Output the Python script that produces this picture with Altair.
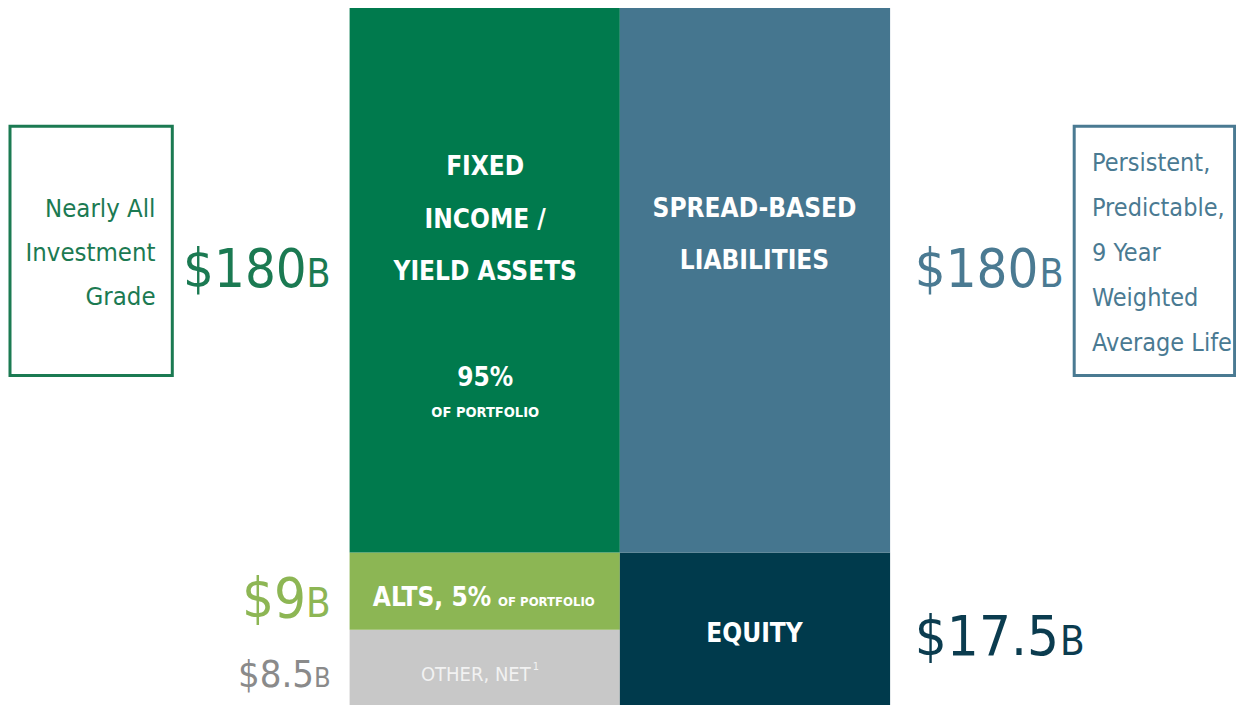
import altair as alt
import pandas as pd

# ---- data ----
segments = ["Other, net", "Alts", "Fixed income / yield assets", "Equity", "Spread-based liabilities"]
sides = ["Assets", "Assets", "Assets", "Liabilities", "Liabilities"]
values = [8.5, 9.0, 180.0, 17.5, 180.0]          # $B
stack_order = [0, 1, 2, 0, 1]
colors = ["#C8C8C8", "#8CB654", "#007A4D", "#003A4C", "#45768F"]

W, H = 1228, 697
FONT = "DejaVu Sans Condensed, DejaVu Sans, sans-serif"
# approximate advance widths (em) of DejaVu Sans Condensed
DIGIT, DOT, BW = 0.572, 0.286, 0.617


def X(xr):
    return round((xr - 2) * 0.99, 1)


def Y(yr):
    return round(yr * H / 713, 1)


df = pd.DataFrame({"segment": segments, "side": sides, "value": values, "order": stack_order})

# piecewise y scale: breakpoints from the asset stack
asset_vals = [v for v, s in zip(values, sides) if s == "Assets"]
bps = [0.0]
for v in asset_vals:
    bps.append(bps[-1] + v)

bars = alt.Chart(df).mark_bar(strokeWidth=0).encode(
    x=alt.X("side:N", axis=None,
            scale=alt.Scale(domain=["Assets", "Liabilities"], range=[X(347), X(893)],
                            paddingInner=0, paddingOuter=0)),
    y=alt.Y("value:Q", stack="zero", axis=None,
            scale=alt.Scale(domain=bps, range=[Y(713), Y(636), Y(557), Y(0)], zero=False, nice=False)),
    color=alt.Color("segment:N", legend=None, scale=alt.Scale(domain=segments, range=colors)),
    order=alt.Order("order:Q", sort="ascending"),
)

one = pd.DataFrame({"a": [0]})


def txt(s, xr, yr, size, color, weight="normal", align="center"):
    return alt.Chart(one).mark_text(
        text=s, align=align, baseline="alphabetic", fontSize=size,
        fontWeight=weight, color=color, font=FONT
    ).encode(x=alt.value(X(xr)), y=alt.value(Y(yr)))


def box(x1, x2, y1, y2, color):
    return alt.Chart(one).mark_rect(fillOpacity=0, stroke=color, strokeWidth=3).encode(
        x=alt.value(X(x1)), x2=alt.value(X(x2)), y=alt.value(Y(y1)), y2=alt.value(Y(y2)))


def money(v):
    return "$" + f"{v:g}"


def width_of(s, size):
    return sum(DOT if ch == "." else DIGIT for ch in s) * size / 0.99


layers = [bars]

# side boxes
layers.append(box(4, 168, 121, 376, "#1B7A52"))
layers.append(box(1079, 1241, 121, 376, "#4A7A92"))
for s, yb in zip(["Nearly All", "Investment", "Grade"], [214, 259, 304]):
    layers.append(txt(s, 151, yb, 25.5, "#1B7A52", align="right"))
for s, yb in zip(["Persistent,", "Predictable,", "9 Year", "Weighted", "Average Life"],
                 [167, 213, 259, 305, 351]):
    layers.append(txt(s, 1097, yb, 25, "#4A7A92", align="left"))

# amounts on the left (right aligned)
left_amounts = [(values[2], 285, 54, "#1B7A52"), (values[1], 623, 56, "#8DB654"), (values[0], 695, 38, "#8A8A8A")]
for v, yb, size, col in left_amounts:
    bsize = round(size * 0.72)
    layers.append(txt("B", 328, yb, bsize, col, align="right"))
    layers.append(txt(money(v), 328 - BW * bsize / 0.99, yb, size, col, align="right"))

# amounts on the right (left aligned)
right_amounts = [(values[4], 285, 54, "#4A7A92"), (values[3], 662, 56, "#0B3C4F")]
for v, yb, size, col in right_amounts:
    bsize = round(size * 0.72)
    s = money(v)
    layers.append(txt(s, 918, yb, size, col, align="left"))
    layers.append(txt("B", 918 + width_of(s, size) + 1, yb, bsize, col, align="left"))

# labels inside columns
for s, yb in zip(["FIXED", "INCOME /", "YIELD ASSETS"], [171, 225, 278]):
    layers.append(txt(s, 484, yb, 26, "white", weight="bold"))
layers.append(txt("95%", 484, 387, 26, "white", weight="bold"))
layers.append(txt("OF PORTFOLIO", 484, 418, 14.5, "white", weight="bold"))
for s, yb in zip(["SPREAD-BASED", "LIABILITIES"], [214, 267]):
    layers.append(txt(s, 756, yb, 26, "white", weight="bold"))
layers.append(txt("ALTS, 5%", 490, 612, 26, "white", weight="bold", align="right"))
layers.append(txt("OF PORTFOLIO", 497, 612, 13, "white", weight="bold", align="left"))
layers.append(txt("OTHER, NET", 530, 688, 20, "#F2F2F2", align="right"))
layers.append(txt("1", 532, 677, 11, "#F2F2F2", align="left"))
layers.append(txt("EQUITY", 756, 649, 26, "white", weight="bold"))

chart = alt.layer(*layers).properties(
    width=W, height=H, autosize=alt.AutoSizeParams(type="none"), padding=0
).configure_view(stroke=None)

chart.save("out.html", embed_options={"renderer": "svg", "actions": False})
